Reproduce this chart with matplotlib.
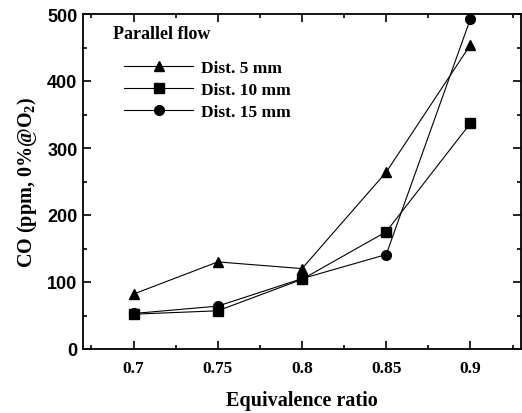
import numpy as np
import matplotlib
matplotlib.use("Agg")
from matplotlib import pyplot as plt
from matplotlib.ticker import MultipleLocator

# 당량비별 CO 배출 (Parallel flow)
phi = [0.7, 0.75, 0.8, 0.85, 0.9]
co_5mm = [82, 130, 120, 264, 454]
co_10mm = [52, 57, 104, 175, 337]
co_15mm = [53, 64, 105, 141, 493]
labels = ['Dist. 5 mm', 'Dist. 10 mm', 'Dist. 15 mm']

plt.rcParams['font.family'] = 'Liberation Serif'
plt.rcParams['font.weight'] = 'bold'
plt.rcParams['mathtext.default'] = 'regular'

fig = plt.figure(figsize=(5.22, 4.14), dpi=100)
ax = fig.add_axes([83/522, 64/414, 438/522, 335/414])

ax.plot(phi, co_5mm, 'k-^', lw=0.8, ms=6.5, label=labels[0])
ax.plot(phi, co_10mm, 'k-s', lw=0.8, ms=6.5, label=labels[1])
ax.plot(phi, co_15mm, 'k-o', lw=0.8, ms=7, label=labels[2])

ax.set_xlim(0.67, 0.93)
ax.set_ylim(0, 500)
ax.xaxis.set_major_locator(MultipleLocator(0.05))
ax.xaxis.set_minor_locator(MultipleLocator(0.025))
ax.yaxis.set_major_locator(MultipleLocator(100))
ax.yaxis.set_minor_locator(MultipleLocator(50))
ax.set_xticks(phi)
ax.set_xticklabels(['0.7', '0.75', '0.8', '0.85', '0.9'], fontsize=12.5, fontweight='bold')
for t in ax.get_yticklabels():
    t.set_fontfamily('Liberation Sans')
    t.set_fontweight('bold')
    t.set_fontsize(13)

ax.tick_params(which='both', direction='in', top=True, right=True, width=1.2)
ax.tick_params(which='major', length=6, pad=8)
ax.tick_params(which='minor', length=3)
ax.tick_params(axis='y', which='major', pad=4)
for s in ax.spines.values():
    s.set_linewidth(1.3)

ax.set_xlabel('Equivalence ratio', fontsize=14.5, fontweight='bold', labelpad=10)
ax.set_ylabel('CO (ppm, 0%@O$_2$)', fontsize=14.5, fontweight='bold', labelpad=6)

ax.text(0.068, 0.943, 'Parallel flow', transform=ax.transAxes, fontsize=13,
        fontweight='bold', va='center')
ax.legend(loc='upper left', bbox_to_anchor=(0.058, 0.91), frameon=False,
          handlelength=4.0, handletextpad=0.46, labelspacing=0.33,
          prop={'family': 'Liberation Serif', 'weight': 'bold', 'size': 12.5})

fig.savefig('out.png', dpi=100)
